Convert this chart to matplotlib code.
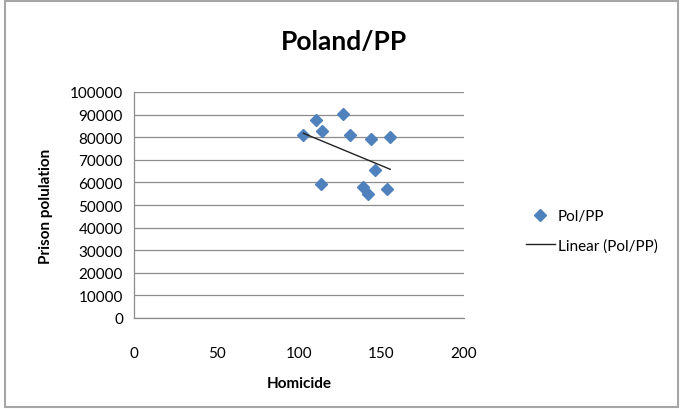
import matplotlib
matplotlib.use("Agg")
import matplotlib.pyplot as plt
import numpy as np
from matplotlib.lines import Line2D
from matplotlib.patches import Rectangle

homicide = [102.7, 110.6, 113.8, 126.5, 130.8, 143.7, 155.3, 145.9, 113.2, 138.8, 141.9, 153.2]
prison = [80900, 87700, 82800, 90200, 80900, 79000, 80000, 65500, 59400, 58100, 54700, 57300]
x_ticks = [0, 50, 100, 150, 200]
y_ticks = list(range(0, 100001, 10000))

plt.rcParams['font.family'] = ['Lato', 'DejaVu Sans']

fig = plt.figure(figsize=(6.8, 4.1), dpi=100)
ax = fig.add_axes([134/680, 1-319/410, 330/680, 226/410])

ax.set_xlim(0, 200)
ax.set_ylim(0, 100000)
ax.set_xticks(x_ticks)
ax.set_yticks(y_ticks)
ax.yaxis.grid(True, color='#8c8c8c', linewidth=0.9)
ax.set_axisbelow(True)
for s in ['top', 'right']:
    ax.spines[s].set_visible(False)
for s in ['left', 'bottom']:
    ax.spines[s].set_color('#8c8c8c')
    ax.spines[s].set_linewidth(0.9)
ax.tick_params(length=0, labelsize=11, colors='#000000')
ax.tick_params(axis='x', pad=20)
ax.tick_params(axis='y', pad=8)

ax.plot(homicide, prison, linestyle='none', marker='D', markersize=6.2,
        color='#4F81BD', zorder=3)

coef = np.polyfit(homicide, prison, 1)
xs = np.array([min(homicide), max(homicide)])
ax.plot(xs, np.polyval(coef, xs), color='#222222', linewidth=1.0, zorder=4)

fig.text(344/680, 1-42/410, 'Poland/PP', ha='center', va='center',
         fontsize=19, fontweight='bold')
fig.text(299/680, 1-384/410, 'Homicide', ha='center', va='center',
         fontsize=11, fontweight='bold')
fig.text(46/680, 1-206/410, 'Prison polulation', ha='center', va='center',
         fontsize=11, fontweight='bold', rotation=90)

handles = [Line2D([], [], linestyle='none', marker='D', markersize=6.2, color='#4F81BD'),
           Line2D([], [], color='#222222', linewidth=1.0)]
fig.legend(handles, ['Pol/PP', 'Linear (Pol/PP)'], loc='center left',
           bbox_to_anchor=(512/680, 1-232/410), frameon=False, fontsize=11,
           handlelength=1.9, handletextpad=0.2, labelspacing=1.0)

fig.patches.append(Rectangle((5/680, 2/410), 673/680, 406/410, transform=fig.transFigure,
                             fill=False, edgecolor='#a6a6a6', linewidth=1.5))

fig.savefig('out.png', dpi=100)
